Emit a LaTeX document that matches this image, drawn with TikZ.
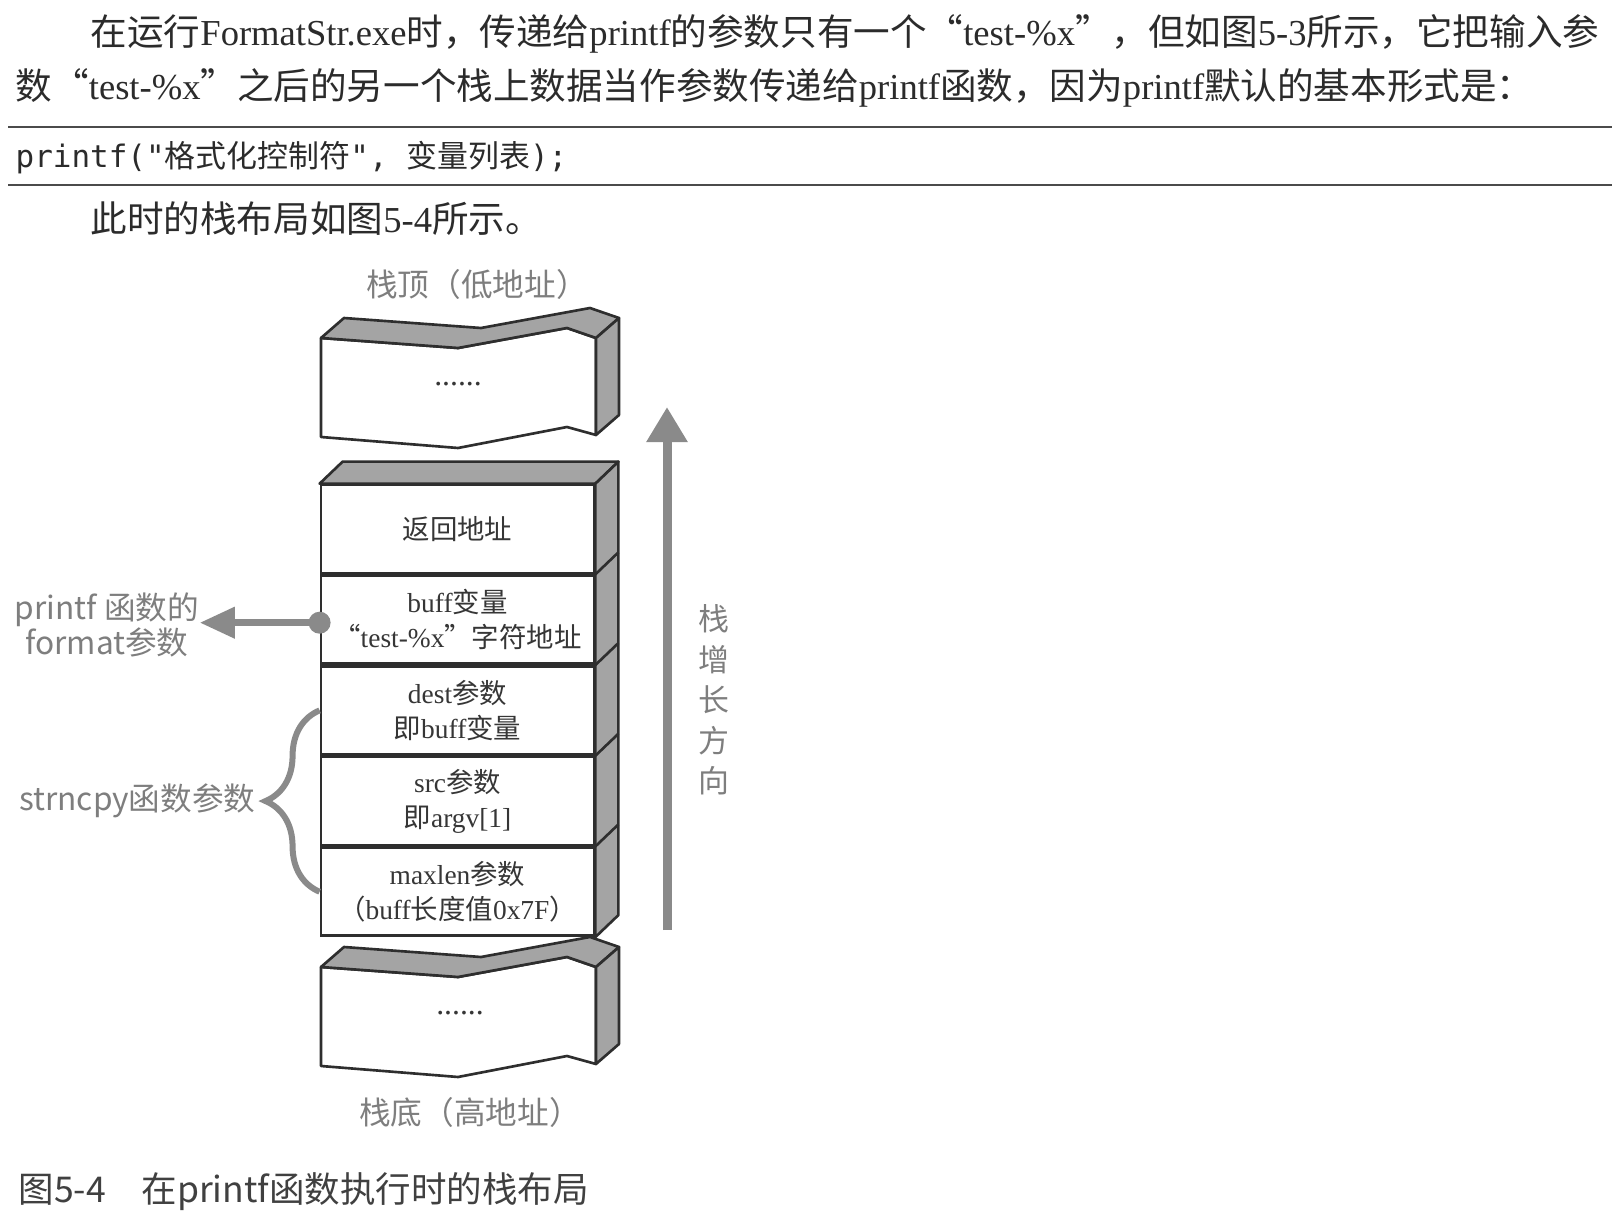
\documentclass[tikz,border=0pt]{standalone}
\usepackage{fontspec}
\setmainfont{Noto Sans CJK SC}
\newfontfamily\serifl{Liberation Serif}
\newfontfamily\monol{DejaVu Sans Mono}
\usepackage{tikz}
\usetikzlibrary{positioning,calc,arrows.meta,decorations.pathreplacing}
\definecolor{ink}{HTML}{2B2B2B}
\definecolor{boxtext}{HTML}{363636}
\definecolor{labelgray}{HTML}{7E7E7E}
\definecolor{arrowgray}{HTML}{8A8A8A}
\definecolor{facegray}{HTML}{A4A4A4}
\definecolor{edge}{HTML}{2E2E2E}
\newcommand{\lat}[1]{{\serifl #1}}
\tikzstyle{para} = [anchor=west, inner sep=0pt, text=ink, font=\fontsize{10.4}{12}\selectfont]
\tikzstyle{cell} = [draw=edge, line width=0.75pt, fill=white, rectangle,
minimum width=2.73cm, minimum height=0.88cm, inner sep=0pt, align=center,
text=boxtext, font=\fontsize{7.8}{10}\selectfont]
\tikzstyle{face} = [draw=edge, line width=0.75pt, fill=facegray, line join=round]
\tikzstyle{front} = [draw=edge, line width=0.75pt, fill=white, line join=round]
\tikzstyle{dots} = [inner sep=0pt, text=boxtext, font=\serifl\fontsize{9}{10}\selectfont]
\tikzstyle{sidelabel} = [inner sep=0pt, align=center, text=labelgray, font=\fontsize{9}{9.7}\selectfont]
\tikzstyle{endlabel} = [inner sep=0pt, text=labelgray, font=\fontsize{9}{10}\selectfont]
\tikzstyle{bigarrow} = [draw=arrowgray, line width=0.09cm, -{Triangle[width=0.39cm,length=0.35cm]}]
\tikzstyle{ptrarrow} = [draw=arrowgray, line width=0.07cm, -{Triangle[width=0.30cm,length=0.35cm]}]
\tikzstyle{brace} = [draw=arrowgray, line width=0.06cm, decorate,
decoration={brace, amplitude=0.54cm, aspect=0.5}]

\begin{document}
\begin{tikzpicture}[x=0.01cm, y=-0.01cm]
		\useasboundingbox (0,0) rectangle (1614,1212);
		
		% text above the figure
		\node(line1)[para] at (90,34) {在运行\lat{FormatStr.exe}时，传递给\lat{printf}的参数只有一个“\lat{test-\%x}”，但如图\lat{5-3}所示，它把输入参};
		\node(line2)[para] at (15,88) {数“\lat{test-\%x}”之后的另一个栈上数据当作参数传递给\lat{printf}函数，因为\lat{printf}默认的基本形式是：};
		\draw[ink!85, line width=0.6pt] (8,127) -- (1612,127);
		\node(code)[para, font=\fontsize{8.8}{10}\selectfont] at (15,158) {{\monol printf("}格式化控制符{\monol ", }变量列表{\monol );}};
		\draw[ink!85, line width=0.6pt] (8,185) -- (1612,185);
		\node(line3)[para] at (90,219) {此时的栈布局如图\lat{5-4}所示。};
		
		% stack frames
		\node(ret)[cell] at (457.5,529) {返回地址};
		\node(buf)[cell, below=0pt of ret] {\lat{buff}变量\\“\lat{test-\%x}”字符地址};
		\node(dst)[cell, below=0pt of buf] {\lat{dest}参数\\即\lat{buff}变量};
		\node(src)[cell, below=0pt of dst] {\lat{src}参数\\即\lat{argv[1]}};
		\node(len)[cell, below=0pt of src] {\lat{maxlen}参数\\（\lat{buff}长度值\lat{0x7F}）};
		
		\draw[face] (ret.north west) -- ++(23,-22) -- ($(ret.north east)+(0.23cm,0.22cm)$) -- (ret.north east) -- cycle;
		\draw[face] (ret.north east) -- ++(23,-22) -- ($(len.south east)+(0.23cm,0.22cm)$) -- (len.south east) -- cycle;
		\foreach \row in {ret,buf,dst,src}
			\draw[edge, line width=0.75pt] (\row.south east) -- ++(23,-22);
		
		% broken ends of the stack
		\foreach \yy in {338,967} {
			\draw[front] (321,\yy) -- (458,\yy+10) -- (567,\yy-10) -- (596,\yy) -- (596,\yy+97) -- (567,\yy+89) -- (458,\yy+110) -- (321,\yy+99) -- cycle;
			\draw[face] (321,\yy) -- (344,\yy-20) -- (481,\yy-10) -- (590,\yy-30) -- (619,\yy-20) -- (596,\yy) -- (567,\yy-10) -- (458,\yy+10) -- cycle;
			\draw[face] (596,\yy) -- (619,\yy-20) -- (619,\yy+77) -- (596,\yy+97) -- cycle;
		}
		\node(topdots)[dots] at (458,384) {......};
		\node(botdots)[dots] at (460,1013) {......};
		\node(stacktop)[endlabel] at (477,284) {栈顶（低地址）};
		\node(stackbot)[endlabel] at (470,1112) {栈底（高地址）};
		
		% growth direction
		\coordinate(growbase) at (667,930);
		\coordinate(growtip) at (667,407);
		\draw[bigarrow] (growbase) -- (growtip);
		\node(growlabel)[sidelabel, font=\fontsize{8.8}{11.5}\selectfont] at (714,700) {栈\\增\\长\\方\\向};
		
		% pointer to the format string
		\coordinate(bufdot) at ([yshift=-0.03cm]buf.west);
		\node(fmtlabel)[sidelabel] at (107,625) {printf 函数的\\format参数};
		\draw[ptrarrow] (bufdot) -- (bufdot -| fmtlabel.east);
		\fill[arrowgray] (bufdot) circle (0.11cm);
		
		% strncpy arguments
		\draw[brace] (len.west) -- node(cpylabel)[sidelabel, left=0.61cm]{strncpy函数参数} (dst.west);
		
		\node(caption)[para, text=ink!90, font=\fontsize{10.1}{12}\selectfont] at (18,1192) {图5-4\hspace{1em}在printf函数执行时的栈布局};
\end{tikzpicture}
\end{document}
